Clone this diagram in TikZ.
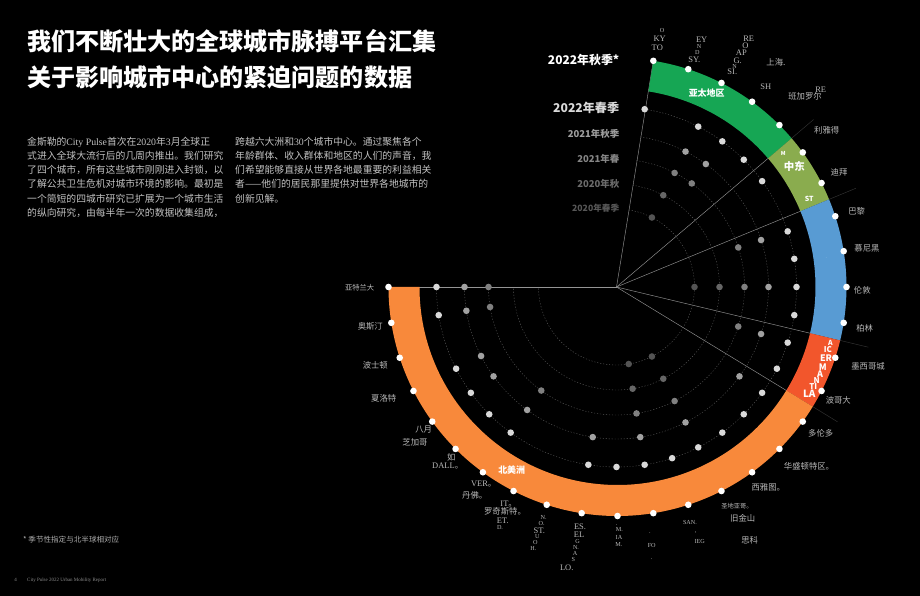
\documentclass[tikz,border=0pt]{standalone}
\usepackage{fontspec}
\usepackage{xcolor}
\usepackage{tikz}
\setmainfont{Noto Sans CJK SC}
\newfontfamily\ltn{Liberation Serif}
\definecolor{bandgreen}{HTML}{16A654}
\definecolor{bandolive}{HTML}{8AAC4E}
\definecolor{bandblue}{HTML}{589BD3}
\definecolor{bandred}{HTML}{F2562C}
\definecolor{bandorange}{HTML}{F8893B}
\newcommand{\fs}[1]{\fontsize{#1}{#1}\selectfont}
\newcommand{\stopmark}{{\rmfamily 。}}
\newcommand{\bandseg}[3]{\fill[#3] (#1:229) arc[start angle=#1, end angle=#2, radius=229] -- (#2:198) arc[start angle=#2, end angle=#1, radius=198] -- cycle;}
\tikzset{
	title/.style={anchor=west, inner sep=0pt, white, font=\bfseries\fs{24.15}},
	bodytext/.style={anchor=north west, inner sep=0pt, align=left, text=white!76!black, font=\fontsize{9.85}{14.35}\selectfont},
	season/.style={anchor=east, inner sep=0pt, font=\bfseries\fs{9.5}},
	city/.style={inner sep=0pt, text=white!72!black, font=\fs{8.4}},
	latin/.style={inner sep=0pt, text=white!72!black, font=\ltn\fs{8.5}},
	latinsmall/.style={inner sep=0pt, text=white!72!black, font=\ltn\fs{6.2}},
	bandlabel/.style={inner sep=0pt, white, font=\bfseries\fs{9}},
	ringline/.style={white!36!black, line width=0.4pt, dash pattern=on 1.2pt off 1.8pt},
	spoke/.style={white!58!black, line width=0.45pt},
	spokeout/.style={white!20!black, line width=0.45pt}
}

\begin{document}
\begin{tikzpicture}[x=1bp, y=1bp]
	\fill[black] (0,0) rectangle (920,596);
	\useasboundingbox (0,0) rectangle (920,596);

	\node[title] (title1) at (27,596-41) {我们不断壮大的全球城市脉搏平台汇集};
	\node[title] (title2) at (27,596-77) {关于影响城市中心的紧迫问题的数据};
	\node[bodytext] (col1) at (27,596-136.5) {金斯勒的{\ltn City Pulse}首次在{\ltn 2020}年{\ltn 3}月全球正\\式进入全球大流行后的几周内推出。我们研究\\了四个城市，所有这些城市刚刚进入封锁，以\\了解公共卫生危机对城市环境的影响。最初是\\一个简短的四城市研究已扩展为一个城市生活\\的纵向研究，由每半年一次的数据收集组成，};
	\node[bodytext] (col2) at (235,596-136.5) {跨越六大洲和{\ltn 30}个城市中心。通过聚焦各个\\年龄群体、收入群体和地区的人们的声音，我\\们希望能够直接从世界各地最重要的利益相关\\者——他们的居民那里提供对世界各地城市的\\创新见解。};
	\node[anchor=west, inner sep=0pt, text=white!68!black, font=\fs{7.6}] (note) at (23,596-540) {* 季节性指定与北半球相对应};
	\node[inner sep=0pt, text=white!55!black, font=\ltn\fs{5}] (page) at (15.5,596-580) {4};
	\node[anchor=west, inner sep=0pt, text=white!55!black, font=\ltn\fs{5}] (report) at (27,596-580) {City Pulse 2022 Urban Mobility Report};

	\node[season, white, font=\bfseries\fs{12}] (s6) at (619.5,596-59.5) {2022年秋季*};
	\node[season, text=white!85!black, font=\bfseries\fs{12.2}] (s5) at (619.5,596-107.5) {2022年春季};
	\node[season, text=white!62!black] (s4) at (619.5,596-133.5) {2021年秋季};
	\node[season, text=white!52!black] (s3) at (619.5,596-158.5) {2021年春};
	\node[season, text=white!42!black] (s2) at (619.5,596-184) {2020年秋};
	\node[season, text=white!34!black, font=\bfseries\fs{8.7}] (s1) at (619.5,596-208) {2020年春季};

	\begin{scope}[shift={(617.5,309)}]
		\coordinate (hub) at (-1,0);
		\draw[spoke] (hub) -- (81:229);
		\draw[spoke] (hub) -- (180:229);
		\foreach \aa in {40.5,22.5,-13.5,-31.5} {
			\draw[spoke] (hub) -- (\aa:200);
			\draw[spokeout] (\aa:200) -- (\aa:258);
		}
		\bandseg{81}{40.5}{bandgreen}
		\bandseg{40.5}{22.5}{bandolive}
		\bandseg{22.5}{-13.5}{bandblue}
		\bandseg{-13.5}{-31.5}{bandred}
		\bandseg{-31.5}{-180}{bandorange}
		\foreach \k in {0,...,29}
			\fill[white] ({81-9*\k}:229) circle (3.3);
	\end{scope}

	% survey waves sit a little left of the band's centre
	\begin{scope}[shift={(616.5,309)}]
		\foreach \rr in {78,103,128,152,180}
			\draw[ringline] (81:\rr) arc[start angle=81, end angle=-180, radius=\rr];
		\foreach \k in {0,2,3,4,5,7,8,9,10,11,12,13,14,15,16,17,18,19,20,23,24,25,26,28,29}
			\fill[white!85!black] ({81-9*\k}:180) circle (3.3);
		\foreach \k in {2,3,7,9,11,13,16,18,20,23,25,26,28,29}
			\fill[white!63!black] ({81-9*\k}:152) circle (3.3);
		\foreach \k in {2,3,7,9,11,16,18,23,28,29}
			\fill[white!50!black] ({81-9*\k}:128) circle (3.3);
		\foreach \k in {2,9,16,18}
			\fill[white!40!black] ({81-9*\k}:103) circle (3.3);
		\foreach \k in {2,9,16,18}
			\fill[white!33!black] ({81-9*\k}:78) circle (3.3);
	\end{scope}

	\node[bandlabel] (apac) at (706.7,596-93) {亚太地区};
	\node[bandlabel, font=\bfseries\fs{10.5}] (me) at (794.3,596-166) {中东};
	\node[bandlabel, font=\bfseries\fs{5.5}] (me1) at (783.3,596-153.3) {M};
	\node[bandlabel, font=\bfseries\fs{7}] (me2) at (809.3,596-198.7) {ST};
	\node[bandlabel, text=white!70!bandblue, font=\fs{3}] (eu) at (826.3,596-257.7) {-};
	\node[bandlabel] (na) at (511.7,596-470) {北美洲};
	\foreach \lx/\ly/\sz/\txt [count=\i] in {830.3/342.7/7/A, 828/350/8/IC, 826/358.3/9/ER, 822.7/366.7/9/M, 820/374/9/A, 816.7/381/8/N, 813.3/387/8/TI, 809.3/394/10/LA}
		\node[bandlabel, font=\bfseries\fs{\sz}] (latam\i) at (\lx,596-\ly) {\txt};

	\foreach \lx/\ly/\txt [count=\i] in {776/62.3/上海., 805/96/班加罗尔, 826.7/130.7/利雅得, 839/172.3/迪拜, 856.7/211.3/巴黎, 867/248.7/慕尼黑, 862.3/290.7/伦敦, 864.7/328.3/柏林, 868/366.7/墨西哥城, 838.3/400.7/波哥大, 820.7/433/多伦多, 809/466.7/华盛顿特区。, 768.3/487.7/西雅图。, 742.7/518/旧金山, 749.7/540/思科, 370.3/326.7/奥斯汀, 375.3/365/波士顿, 383.7/398.3/夏洛特, 423.7/429.7/八月, 415/442.3/芝加哥, 451.3/457.7/如, 474.7/495/丹佛。, 505/511/罗奇斯特。}
		\node[city] (city\i) at (\lx,596-\ly) {\txt};
	\node[city, font=\fs{7.3}] (atl) at (359.7,596-287.7) {亚特兰大};
	\node[city, font=\fs{6.3}] (sdg) at (737,596-505.7) {圣地亚哥。};

	\foreach \lx/\ly/\txt [count=\i] in {659.7/38.7/KY, 657.3/47.7/TO, 701.7/39.7/EY, 694.3/59.7/SY., 748.7/39/RE, 745.3/46/O, 741.3/52.7/AP, 737.7/60.7/G., 732.3/72/SI., 765.7/86.7/SH, 820.7/89.7/RE, 447.7/465.7/DALL\stopmark, 483.7/483.7/VER\stopmark, 508.7/504.3/IT\stopmark, 502.7/521/ET., 539.3/530.7/ST., 580/526.3/ES., 579/535/EL, 566.7/567.3/LO.}
		\node[latin] (lat\i) at (\lx,596-\ly) {\txt};
	\foreach \lx/\ly/\txt [count=\i] in {662/30.3/O, 699/46.7/N, 697.3/52.3/D, 734.7/66.3/N, 690/523/SAN., 695.7/532.3/{,}, 699.7/541.7/IEG, 616.7/525/., 619.3/529.7/M., 619/537.3/IA, 619/545/M., 650/533.3/., 651.7/545.7/FO, 651.7/559/., 500/527.7/D., 543.7/517.3/N., 541.7/523.3/O., 537.3/537/U, 535.3/542.7/O, 533.3/548.7/H., 577.7/541.7/G, 576/547.3/N., 575/553.3/A, 573.3/559/S}
		\node[latinsmall] (sm\i) at (\lx,596-\ly) {\txt};
\end{tikzpicture}
\end{document}
